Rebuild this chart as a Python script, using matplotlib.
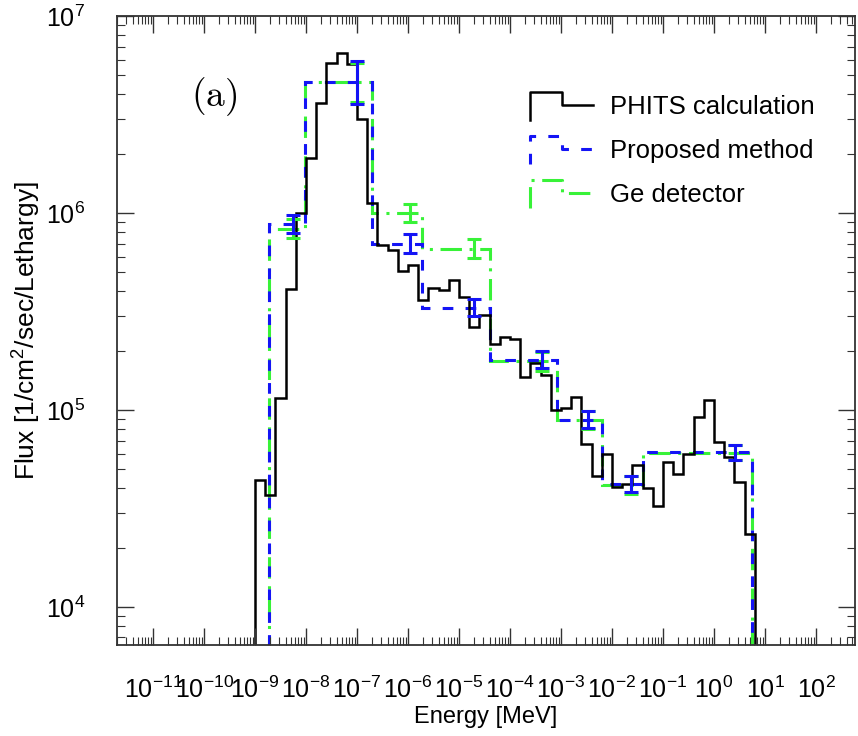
import numpy as np
import matplotlib

matplotlib.use("Agg")
from matplotlib import pyplot as plt
from matplotlib.legend_handler import HandlerBase
from matplotlib.lines import Line2D
from matplotlib.ticker import LogLocator, NullFormatter

plt.rcParams["font.family"] = ["Liberation Sans", "DejaVu Sans"]
plt.rcParams["mathtext.fontset"] = "custom"
plt.rcParams["mathtext.rm"] = "Liberation Sans"
plt.rcParams["mathtext.it"] = "Liberation Sans:italic"
plt.rcParams["mathtext.bf"] = "Liberation Sans:bold"

# PHITS calculation: 5 bins per decade, 1e-9 MeV .. ~6 MeV
phits_edges = 10 ** np.linspace(-9.0, 0.8, 50)
phits_flux = [
    4.4e4, 3.7e4, 1.15e5, 4.1e5, 1.0e6, 1.9e6, 3.6e6, 5.8e6, 6.5e6, 5.7e6,
    3.0e6, 1.12e6, 6.9e5, 6.5e5, 5.1e5, 5.45e5, 3.6e5, 4.15e5, 4.05e5, 4.55e5,
    3.75e5, 2.65e5, 3.05e5, 2.15e5, 2.35e5, 2.3e5, 1.47e5, 1.73e5, 1.5e5, 1.0e5,
    1.02e5, 1.16e5, 6.7e4, 4.6e4, 6.0e4, 4.05e4, 4.2e4, 5.25e4, 4.0e4, 3.25e4,
    5.45e4, 4.75e4, 6.0e4, 9.2e4, 1.12e5, 6.9e4, 5.8e4, 4.3e4, 2.35e4,
]

# unfolding bins shared by the proposed method and the Ge detector
method_edges = [1.9e-9, 9.5e-9, 2.0e-7, 1.9e-6, 4.0e-5, 8.4e-4, 6.4e-3, 4.0e-2, 5.6]
method_flux = [8.8e5, 4.6e6, 7.0e5, 3.3e5, 1.8e5, 8.9e4, 4.2e4, 6.1e4]
ge_flux = [8.3e5, 4.6e6, 1.0e6, 6.6e5, 1.77e5, 8.9e4, 4.15e4, 6.05e4]

# error bars (energy where drawn, half width in decades)
err_energy = [5.6e-9, 1.0e-7, 1.1e-6, 2.0e-5, 4.2e-4, 3.4e-3, 2.35e-2, 2.6]
method_err = [0.046, 0.11, 0.048, 0.043, 0.043, 0.043, 0.041, 0.038]
ge_err = [0.048, 0.10, 0.048, 0.046, 0.048, 0.048, 0.046, 0.038]

labels = ["PHITS calculation", "Proposed method", "Ge detector"]

blue = "#1414f5"
green = "#38f238"
blue_dash = (0, (3.5, 4.0))
green_dash = (0, (7.0, 2.5, 1.0, 2.5))


class StepHandler(HandlerBase):
    def create_artists(self, legend, orig_handle, xdescent, ydescent,
                       width, height, fontsize, trans):
        xs = np.array([0.0, 0.0, 0.5, 0.5, 1.0]) * width - xdescent
        ys = np.array([-0.33, 1.22, 1.22, 0.5, 0.5]) * height - ydescent
        line = Line2D(xs, ys)
        self.update_prop(line, orig_handle, legend)
        line.set_transform(trans)
        return [line]


def log_err(vals, dex):
    v = np.array(vals)
    d = np.array(dex)
    return [v - v * 10 ** -d, v * 10 ** d - v]


fig = plt.figure(figsize=(8.58, 7.36), dpi=100)
ax = fig.add_axes([117 / 858, 1 - 645 / 736, 738 / 858, 629 / 736])
ax.set_xscale("log")
ax.set_yscale("log")

ax.stairs(ge_flux, method_edges, baseline=1e2, color=green, lw=2.2,
          linestyle=green_dash)
ax.errorbar(err_energy, ge_flux, yerr=log_err(ge_flux, ge_err), fmt="none",
            ecolor=green, elinewidth=2.2, capsize=5, capthick=2.2)
ax.stairs(method_flux, method_edges, baseline=1e2, color=blue, lw=2.2,
          linestyle=blue_dash)
ax.errorbar(err_energy, method_flux, yerr=log_err(method_flux, method_err),
            fmt="none", ecolor=blue, elinewidth=2.2, capsize=5, capthick=2.2)
ax.stairs(phits_flux, phits_edges, baseline=1e2, color="black", lw=1.8)

ax.set_xlim(10 ** -11.706, 10 ** 2.765)
ax.set_ylim(10 ** 3.807, 1e7)

ax.xaxis.set_major_locator(LogLocator(base=10, numticks=30))
ax.xaxis.set_minor_locator(LogLocator(base=10, subs=np.arange(2, 10), numticks=30))
ax.xaxis.set_minor_formatter(NullFormatter())
ax.yaxis.set_minor_locator(LogLocator(base=10, subs=np.arange(2, 10), numticks=30))
ax.yaxis.set_minor_formatter(NullFormatter())

ax.tick_params(which="both", direction="in", top=True, right=True,
               labelsize=18, color="#333333")
ax.tick_params(which="major", length=12, width=1.0, pad=23)
ax.tick_params(which="minor", length=6, width=0.8)
for s in ax.spines.values():
    s.set_linewidth(1.3)
    s.set_color("#333333")

ax.set_xlabel("Energy [MeV]", fontsize=17)
ax.set_ylabel("Flux [1/cm$^2$/sec/Lethargy]", fontsize=19)
ax.xaxis.set_label_coords(0.5, -0.097)
ax.yaxis.set_label_coords(-0.1, 0.5)

ax.text(0.1, 0.872, r"$\mathrm{(a)}$", math_fontfamily="cm", fontsize=27,
        transform=ax.transAxes, va="center")

handles = [
    Line2D([], [], color="black", lw=1.8),
    Line2D([], [], color=blue, lw=2.2, linestyle=blue_dash),
    Line2D([], [], color=green, lw=2.2, linestyle=green_dash),
]
ax.legend(handles, labels, handler_map={Line2D: StepHandler()},
          loc="upper left", bbox_to_anchor=(0.56, 0.874), frameon=False,
          fontsize=18.5, handlelength=2.45, handletextpad=0.66,
          labelspacing=0.77, borderpad=0, borderaxespad=0)

fig.savefig("out.png", dpi=100)
